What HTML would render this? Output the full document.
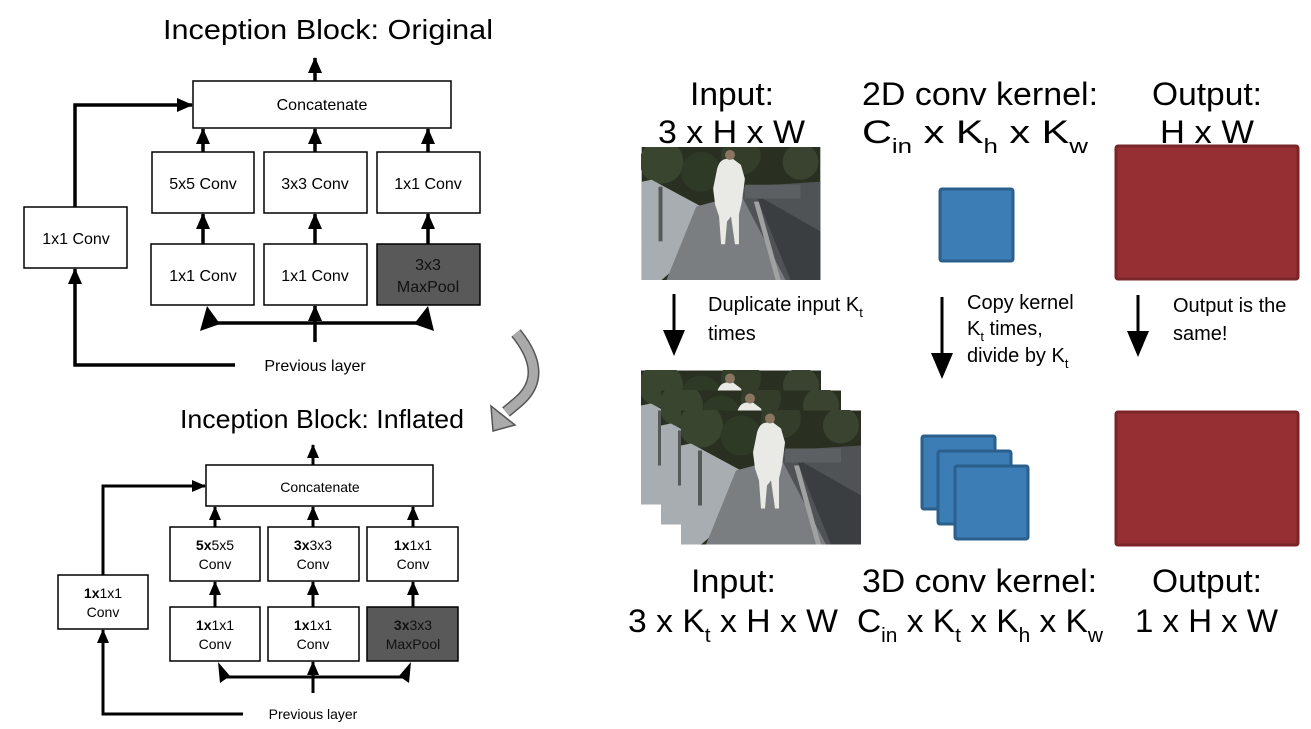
<!DOCTYPE html>
<html><head><meta charset="utf-8"><style>
html,body{margin:0;padding:0;background:#fff;}
svg{display:block;}
</style></head><body>
<svg width="1311" height="729" viewBox="0 0 1311 729" xmlns="http://www.w3.org/2000/svg" font-family="Liberation Sans, Arial, sans-serif">
<defs>
<marker id="ah" markerWidth="16" markerHeight="14" refX="15" refY="7" orient="auto" markerUnits="userSpaceOnUse"><path d="M0,0 L16,7 L0,14 z" fill="#000"/></marker>
<marker id="ah2" markerWidth="14" markerHeight="12" refX="13" refY="6" orient="auto" markerUnits="userSpaceOnUse"><path d="M0,0 L14,6 L0,12 z" fill="#000"/></marker>
<symbol id="photo" viewBox="0 0 180 134">
<rect width="180" height="134" fill="#2a3021"/>
<circle cx="20" cy="15" r="22" fill="#3a4530"/><circle cx="60" cy="25" r="20" fill="#2f3a26"/><circle cx="100" cy="8" r="20" fill="#333d2a"/><circle cx="160" cy="15" r="18" fill="#394330"/>
<path d="M100,40 L180,35 L180,134 L90,134 z" fill="#4f5356"/>
<path d="M115,48 L180,85 L180,134 L150,134 z" fill="#3a3e40"/>
<path d="M0,35 L10,33 L60,60 L60,100 L20,134 L0,134 z" fill="#a7adb0"/>
<path d="M55,60 L100,48 L145,134 L25,134 z" fill="#7b7e80"/>
<path d="M118,55 L140,134 L135,134 L113,55z" fill="#a0a2a2"/>
<rect x="104" y="38" width="56" height="14" fill="#5c6062"/>
<rect x="17" y="40" width="4" height="55" fill="#55595a"/>
<path d="M87,12 C80,12 78,16 76,22 L72,42 L74,58 L78,70 L80,98 L84,98 L86,75 L90,70 L94,98 L98,98 L98,68 L101,55 L104,32 L100,18 L92,12 z" fill="#e9e9e6"/>
<circle cx="89" cy="8" r="5" fill="#8a7560"/>
</symbol>
</defs>

<!-- ===== Left top: Original ===== -->
<text x="163" y="39" font-size="28" fill="#000" textLength="330" lengthAdjust="spacingAndGlyphs">Inception Block: Original</text>
<g stroke="#000" fill="none" stroke-width="1.5">
<rect x="193" y="81" width="258" height="47" fill="#fff"/>
<rect x="152" y="152" width="102" height="61" fill="#fff"/>
<rect x="264" y="152" width="103" height="61" fill="#fff"/>
<rect x="377" y="152" width="103" height="61" fill="#fff"/>
<rect x="151" y="244" width="103" height="61" fill="#fff"/>
<rect x="264" y="244" width="103" height="61" fill="#fff"/>
<rect x="377" y="244" width="103" height="61" fill="#595959"/>
<rect x="24" y="207" width="103" height="61" fill="#fff"/>
</g>
<g stroke="#000" stroke-width="3.5" fill="none">
<line x1="315" y1="81" x2="315" y2="58" marker-end="url(#ah)"/>
<line x1="203" y1="152" x2="203" y2="129" marker-end="url(#ah)"/>
<line x1="315" y1="152" x2="315" y2="129" marker-end="url(#ah)"/>
<line x1="428" y1="152" x2="428" y2="129" marker-end="url(#ah)"/>
<line x1="203" y1="244" x2="203" y2="214" marker-end="url(#ah)"/>
<line x1="315" y1="244" x2="315" y2="214" marker-end="url(#ah)"/>
<line x1="428" y1="244" x2="428" y2="214" marker-end="url(#ah)"/>
<polyline points="212,323 420,323"/>
<line x1="315" y1="342" x2="315" y2="306" marker-end="url(#ah)"/>
<polyline points="235,365 75,365 75,269" marker-end="url(#ah)"/>
<polyline points="75,207 75,105 192,105" marker-end="url(#ah)"/>
</g>
<path d="M207,306 L200,331 L220,324 z M428,306 L434,331 L414,324 z" fill="#000"/>
<g font-size="16" text-anchor="middle" fill="#000">
<text x="322" y="110">Concatenate</text>
<text x="203" y="189">5x5 Conv</text>
<text x="315" y="189">3x3 Conv</text>
<text x="428" y="189">1x1 Conv</text>
<text x="203" y="281">1x1 Conv</text>
<text x="315" y="281">1x1 Conv</text>
<text x="428" y="270" fill="#111">3x3</text>
<text x="428" y="292" fill="#111">MaxPool</text>
<text x="76" y="244">1x1 Conv</text>
<text x="315" y="371">Previous layer</text>
</g>

<!-- curved arrow -->
<path d="M516,333 Q550,375 518,402 L506,412" stroke="#555" stroke-width="12" fill="none"/>
<path d="M516,333 Q550,375 518,402 L506,412" stroke="#aaa" stroke-width="9" fill="none"/>
<path d="M493,431 L491,406 L515,425 z" fill="#aaa" stroke="#555" stroke-width="1.5"/>

<!-- ===== Left bottom: Inflated ===== -->
<text x="180" y="428" font-size="26" fill="#000" textLength="284" lengthAdjust="spacingAndGlyphs">Inception Block: Inflated</text>
<g stroke="#000" fill="none" stroke-width="1.5">
<rect x="206" y="465" width="227" height="41" fill="#fff"/>
<rect x="170" y="527" width="90" height="54" fill="#fff"/>
<rect x="268" y="527" width="91" height="54" fill="#fff"/>
<rect x="367" y="527" width="91" height="54" fill="#fff"/>
<rect x="170" y="607" width="90" height="54" fill="#fff"/>
<rect x="268" y="607" width="91" height="54" fill="#fff"/>
<rect x="367" y="607" width="91" height="54" fill="#595959"/>
<rect x="58" y="575" width="90" height="54" fill="#fff"/>
</g>
<g stroke="#000" stroke-width="3" fill="none">
<line x1="313" y1="465" x2="313" y2="445" marker-end="url(#ah2)"/>
<line x1="215" y1="527" x2="215" y2="507" marker-end="url(#ah2)"/>
<line x1="313" y1="527" x2="313" y2="507" marker-end="url(#ah2)"/>
<line x1="413" y1="527" x2="413" y2="507" marker-end="url(#ah2)"/>
<line x1="215" y1="607" x2="215" y2="582" marker-end="url(#ah2)"/>
<line x1="313" y1="607" x2="313" y2="582" marker-end="url(#ah2)"/>
<line x1="413" y1="607" x2="413" y2="582" marker-end="url(#ah2)"/>
<polyline points="222,677 405,677"/>
<line x1="313" y1="693" x2="313" y2="662" marker-end="url(#ah2)"/>
<polyline points="243,714 103,714 103,630" marker-end="url(#ah2)"/>
<polyline points="103,575 103,486 205,486" marker-end="url(#ah2)"/>
</g>
<path d="M218,662 L220,683 L230,676 z M411,662 L409,683 L399,676 z" fill="#000"/>
<g font-size="14" text-anchor="middle" fill="#000">
<text x="320" y="492">Concatenate</text>
<text x="215" y="550"><tspan font-weight="bold">5x</tspan>5x5</text>
<text x="215" y="569">Conv</text>
<text x="313" y="550"><tspan font-weight="bold">3x</tspan>3x3</text>
<text x="313" y="569">Conv</text>
<text x="413" y="550"><tspan font-weight="bold">1x</tspan>1x1</text>
<text x="413" y="569">Conv</text>
<text x="215" y="630"><tspan font-weight="bold">1x</tspan>1x1</text>
<text x="215" y="649">Conv</text>
<text x="313" y="630"><tspan font-weight="bold">1x</tspan>1x1</text>
<text x="313" y="649">Conv</text>
<text x="413" y="630" fill="#111"><tspan font-weight="bold">3x</tspan>3x3</text>
<text x="413" y="649" fill="#111">MaxPool</text>
<text x="103" y="598"><tspan font-weight="bold">1x</tspan>1x1</text>
<text x="103" y="617">Conv</text>
<text x="313" y="719">Previous layer</text>
</g>

<!-- ===== Right ===== -->
<g font-size="32" fill="#000">
<text x="690" y="105" textLength="84" lengthAdjust="spacingAndGlyphs">Input:</text>
<text x="658" y="143" textLength="147" lengthAdjust="spacingAndGlyphs">3 x H x W</text>
<text x="862" y="105" textLength="236" lengthAdjust="spacingAndGlyphs">2D conv kernel:</text>
<text x="862" y="143" textLength="226" lengthAdjust="spacingAndGlyphs">C<tspan font-size="20" dy="10">in</tspan><tspan dy="-10"> x K</tspan><tspan font-size="20" dy="10">h</tspan><tspan dy="-10"> x K</tspan><tspan font-size="20" dy="10">w</tspan></text>
<text x="1152" y="105" textLength="110" lengthAdjust="spacingAndGlyphs">Output:</text>
<text x="1160" y="143" textLength="94" lengthAdjust="spacingAndGlyphs">H x W</text>

<text x="691" y="592" textLength="85" lengthAdjust="spacingAndGlyphs">Input:</text>
<text x="628" y="632" textLength="210" lengthAdjust="spacingAndGlyphs">3 x K<tspan font-size="20" dy="10">t</tspan><tspan dy="-10"> x H x W</tspan></text>
<text x="862" y="592" textLength="235" lengthAdjust="spacingAndGlyphs">3D conv kernel:</text>
<text x="857" y="632" textLength="246" lengthAdjust="spacingAndGlyphs">C<tspan font-size="20" dy="10">in</tspan><tspan dy="-10"> x K</tspan><tspan font-size="20" dy="10">t</tspan><tspan dy="-10"> x K</tspan><tspan font-size="20" dy="10">h</tspan><tspan dy="-10"> x K</tspan><tspan font-size="20" dy="10">w</tspan></text>
<text x="1152" y="592" textLength="110" lengthAdjust="spacingAndGlyphs">Output:</text>
<text x="1135" y="632" textLength="143" lengthAdjust="spacingAndGlyphs">1 x H x W</text>
</g>

<!-- photos -->
<use href="#photo" x="641" y="147" width="180" height="133"/>
<use href="#photo" x="641" y="370" width="180" height="135"/>
<use href="#photo" x="661" y="390" width="180" height="135"/>
<use href="#photo" x="681" y="410" width="180" height="135"/>

<!-- kernels -->
<rect x="940" y="189" width="73" height="72" rx="2" fill="#3d7db5" stroke="#2b5f8c" stroke-width="3"/>
<rect x="922" y="436" width="73" height="73" rx="2" fill="#3d7db5" stroke="#2b5f8c" stroke-width="3"/>
<rect x="938" y="451" width="73" height="73" rx="2" fill="#3d7db5" stroke="#2b5f8c" stroke-width="3"/>
<rect x="955" y="466" width="73" height="73" rx="2" fill="#3d7db5" stroke="#2b5f8c" stroke-width="3"/>

<!-- outputs -->
<rect x="1116" y="146" width="182" height="133" rx="2" fill="#962f33" stroke="#7a2528" stroke-width="3"/>
<rect x="1116" y="412" width="182" height="133" rx="2" fill="#962f33" stroke="#7a2528" stroke-width="3"/>

<!-- down arrows -->
<line x1="674" y1="294" x2="674" y2="332" stroke="#000" stroke-width="3"/>
<path d="M663,330 L685,330 L674,356 z" fill="#000"/>
<line x1="942" y1="297" x2="942" y2="355" stroke="#000" stroke-width="3"/>
<path d="M931,353 L953,353 L942,379 z" fill="#000"/>
<line x1="1138" y1="295" x2="1138" y2="333" stroke="#000" stroke-width="3"/>
<path d="M1127,331 L1149,331 L1138,357 z" fill="#000"/>

<g font-size="20" fill="#000">
<text x="708" y="311">Duplicate input K<tspan font-size="13" dy="6">t</tspan></text>
<text x="708" y="340">times</text>
<text x="967" y="309">Copy kernel</text>
<text x="967" y="335">K<tspan font-size="13" dy="6">t</tspan><tspan dy="-6"> times,</tspan></text>
<text x="967" y="362">divide by K<tspan font-size="13" dy="6">t</tspan></text>
<text x="1173" y="312">Output is the</text>
<text x="1173" y="340">same!</text>
</g>
</svg>
</body></html>
